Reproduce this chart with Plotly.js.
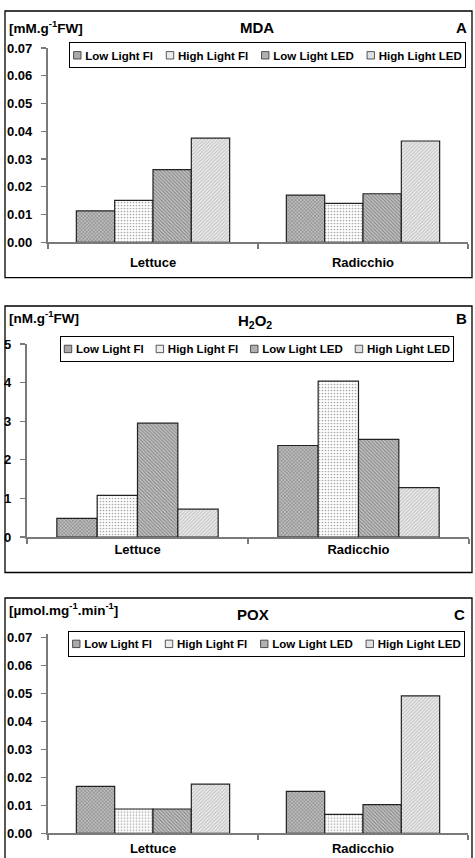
<!DOCTYPE html>
<html><head><meta charset="utf-8">
<script src="https://cdn.plot.ly/plotly-3.0.1.min.js"></script>
<style>html,body{margin:0;padding:0;background:#fff;} #chart{width:475px;height:858px;}</style>
</head><body><div id="chart"></div>
<script>
const categories = ['Lettuce', 'Radicchio'];
const seriesNames = ['Low Light Fl', 'High Light Fl', 'Low Light LED', 'High Light LED'];

const mdaLowFl   = [0.0113, 0.0170];
const mdaHighFl  = [0.0151, 0.0140];
const mdaLowLed  = [0.0262, 0.0175];
const mdaHighLed = [0.0375, 0.0365];

const h2o2LowFl   = [0.48, 2.37];
const h2o2HighFl  = [1.08, 4.04];
const h2o2LowLed  = [2.95, 2.53];
const h2o2HighLed = [0.72, 1.28];

const poxLowFl   = [0.0168, 0.0150];
const poxHighFl  = [0.0087, 0.0068];
const poxLowLed  = [0.0087, 0.0103];
const poxHighLed = [0.0176, 0.0492];

const smallTickVals = [0, 0.01, 0.02, 0.03, 0.04, 0.05, 0.06, 0.07];
const smallTickText = ['0.00', '0.01', '0.02', '0.03', '0.04', '0.05', '0.06', '0.07'];
const h2o2TickVals = [0, 1, 2, 3, 4, 5];
const h2o2TickText = ['0', '1', '2', '3', '4', '5'];

const W = 475, H = 858;
const px = v => v / W;
const py = v => 1 - v / H;
const FONT = 'Liberation Sans, Arial, sans-serif';

const patterns = [
  {shape: 'x', bgcolor: '#bdbdbd', fgcolor: '#777777', size: 2.5, solidity: 0.35},
  {shape: '.', bgcolor: '#ffffff', fgcolor: '#a8a8a8', size: 3, solidity: 0.25},
  {shape: '\\', bgcolor: '#c4c4c4', fgcolor: '#808080', size: 2.5, solidity: 0.4},
  {shape: '/', bgcolor: '#ededed', fgcolor: '#bdbdbd', size: 2.5, solidity: 0.4}
];

function makeTraces(seriesList, xa, ya, legendId) {
  return seriesList.map((vals, i) => ({
    type: 'bar',
    name: seriesNames[i],
    x: categories,
    y: vals,
    xaxis: xa,
    yaxis: ya,
    legend: legendId,
    marker: {
      color: patterns[i].bgcolor,
      pattern: patterns[i],
      line: {color: '#222', width: 1.2}
    },
    hoverinfo: 'skip'
  }));
}

const data = [
  ...makeTraces([mdaLowFl, mdaHighFl, mdaLowLed, mdaHighLed], 'x', 'y', 'legend'),
  ...makeTraces([h2o2LowFl, h2o2HighFl, h2o2LowLed, h2o2HighLed], 'x2', 'y2', 'legend2'),
  ...makeTraces([poxLowFl, poxHighFl, poxLowLed, poxHighLed], 'x3', 'y3', 'legend3')
];

const tickFont = {family: FONT, size: 13, color: '#000', weight: 700};
const axisCol = '#7a7a7a';

function xAxis(d0, d1, anchor, standoff) {
  return {
    domain: [px(d0), px(d1)], anchor: anchor, type: 'category',
    range: [-0.5, 1.5], tickson: 'boundaries', ticks: 'outside', ticklen: 5,
    tickcolor: axisCol, tickwidth: 1.3, showline: true, linecolor: axisCol, linewidth: 1.6,
    showgrid: false, zeroline: false, tickfont: tickFont, ticklabelstandoff: standoff, fixedrange: true
  };
}
function yAxis(bottom, top, anchor, range, tv, tt) {
  return {
    domain: [py(bottom), py(top)], anchor: anchor, range: range,
    tickvals: tv, ticktext: tt, ticks: 'outside', ticklen: 5.5,
    tickcolor: axisCol, tickwidth: 1.3, showline: true, linecolor: axisCol, linewidth: 1.6,
    showgrid: false, zeroline: false, tickfont: tickFont, ticklabelstandoff: 6, fixedrange: true
  };
}

function legendAt(x, y) {
  return {
    x: px(x), y: py(y), xanchor: 'left', yanchor: 'top', orientation: 'h',
    bgcolor: '#fff', bordercolor: '#000', borderwidth: 1, traceorder: 'normal',
    font: {family: FONT, size: 11.5, color: '#000', weight: 700}
  };
}

function ann(text, x, y, xanchor, size) {
  return {text: text, x: px(x), y: py(y), xref: 'paper', yref: 'paper',
    xanchor: xanchor, yanchor: 'middle', showarrow: false,
    font: {family: FONT, size: size, color: '#000', weight: 700}};
}

function frame(y0, y1) {
  return {type: 'rect', xref: 'paper', yref: 'paper', x0: px(5), x1: px(472),
    y0: py(y0), y1: py(y1), line: {color: '#000', width: 1.3}, fillcolor: 'rgba(0,0,0,0)'};
}

const layout = {
  width: W, height: H, margin: {l: 0, r: 0, t: 0, b: 0, autoexpand: false},
  paper_bgcolor: '#fff', plot_bgcolor: 'rgba(0,0,0,0)',
  barmode: 'group', bargap: 0.27, bargroupgap: 0,
  font: {family: FONT, color: '#000'},
  xaxis: xAxis(48, 468, 'y', 7),
  yaxis: yAxis(242.3, 48, 'x', [0, 0.07], smallTickVals, smallTickText),
  xaxis2: xAxis(27, 469, 'y2', 7.5),
  yaxis2: yAxis(537, 344, 'x2', [0, 5], h2o2TickVals, h2o2TickText),
  xaxis3: xAxis(48, 468, 'y3', 2),
  yaxis3: yAxis(833.3, 633.6, 'x3', [0, 0.0715], smallTickVals, smallTickText),
  legend: legendAt(69.3, 42.3),
  legend2: legendAt(60, 335.7),
  legend3: legendAt(68.3, 631),
  annotations: [
    ann('[mM.g<sup>-1</sup>FW]', 7, 27, 'left', 13.5),
    ann('MDA', 256.7, 27.5, 'center', 15),
    ann('A', 461, 27.5, 'center', 15),
    ann('[nM.g<sup>-1</sup>FW]', 7, 317, 'left', 13.5),
    ann('H<sub>2</sub>O<sub>2</sub>', 255, 321, 'center', 15),
    ann('B', 461.5, 318, 'center', 15),
    ann('[µmol.mg<sup>-1</sup>.min<sup>-1</sup>]', 7, 609, 'left', 13.5),
    ann('POX', 253, 614, 'center', 15),
    ann('C', 459, 614, 'center', 15)
  ],
  shapes: [frame(11, 277.7), frame(306, 572.5), frame(598, 890)],
  showlegend: true
};

const legendSpecs = {legend: {w: 396.5, h: 26}, legend2: {w: 394, h: 26.5}, legend3: {w: 396.5, h: 25.7}};

function fixLegends() {
  const gd = document.getElementById('chart');
  gd.querySelectorAll('g.infolayer > g').forEach(g => {
    const cls = (g.getAttribute('class') || '').split(/\s+/);
    const key = cls.find(c => legendSpecs[c]);
    if (!key) return;
    const sp = legendSpecs[key];
    const traces = Array.from(g.querySelectorAll('g.traces'));
    const s = 0.62, symW = 8, textOff = 12, pad = 4;
    const widths = [];
    traces.forEach(tr => {
      const layers = tr.querySelector('g.layers');
      if (layers) {
        layers.removeAttribute('transform');
        const bb = layers.getBBox();
        const cx = bb.x + bb.width / 2, cy = bb.y + bb.height / 2;
        layers.setAttribute('transform', 'translate(' + (symW / 2 - s * cx) + ',' + (-s * cy) + ') scale(' + s + ')');
      }
      const txt = tr.querySelector('text');
      if (txt) {
        txt.setAttribute('x', textOff);
        txt.querySelectorAll('tspan').forEach(t => { if (t.hasAttribute('x')) t.setAttribute('x', textOff); });
        let w = txt.getBBox().width;
        if (!w) w = (txt.textContent || '').length * 6.4;
        widths.push(w);
      } else widths.push(60);
      const tog = tr.querySelector('rect.legendtoggle');
      if (tog) tog.setAttribute('width', 0);
    });
    const used = widths.reduce((a, b) => a + b + textOff, 0);
    const gap = (sp.w - 2 * pad - used) / Math.max(1, traces.length - 1);
    let x = pad;
    traces.forEach((tr, i) => {
      tr.setAttribute('transform', 'translate(' + x + ',' + (sp.h / 2) + ')');
      x += textOff + widths[i] + gap;
    });
    const bg = g.querySelector('rect.bg');
    if (bg) {
      bg.setAttribute('x', 0.5); bg.setAttribute('y', 0.5);
      bg.setAttribute('width', sp.w - 1); bg.setAttribute('height', sp.h - 1);
    }
    const sb = g.querySelector('g.scrollbox');
    if (sb) {
      sb.setAttribute('transform', 'translate(0,0)');
      sb.removeAttribute('clip-path');
    }
    g.querySelectorAll('rect.scrollbar').forEach(b => b.setAttribute('width', 0));
  });
}

const gdEl = document.getElementById('chart');
Plotly.newPlot(gdEl, data, layout, {staticPlot: true, displayModeBar: false, responsive: false})
  .then(() => {
    fixLegends();
    gdEl.on('plotly_afterplot', () => setTimeout(fixLegends, 0));
    setTimeout(fixLegends, 50);
    setTimeout(fixLegends, 300);
    setTimeout(fixLegends, 1000);
  });
</script>
</body></html>
